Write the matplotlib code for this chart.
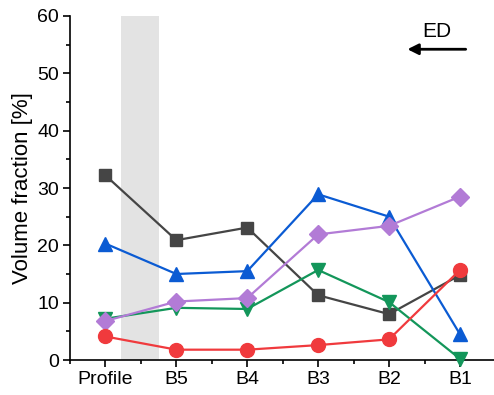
import numpy as np
import matplotlib
matplotlib.use("Agg")
import matplotlib.pyplot as plt
from matplotlib.ticker import MultipleLocator

plt.rcParams['font.family'] = ['Liberation Sans', 'DejaVu Sans']

# data ------------------------------------------------------------------------
categories = ["Profile", "B5", "B4", "B3", "B2", "B1"]
gray_sq = [32.2, 20.9, 23.1, 11.3, 8.0, 14.8]
blue_up = [20.3, 15.0, 15.5, 28.9, 25.0, 4.5]
purple_dia = [6.8, 10.2, 10.8, 21.9, 23.4, 28.5]
green_down = [7.2, 9.1, 8.9, 15.7, 10.1, 0.2]
red_circ = [4.1, 1.8, 1.8, 2.6, 3.6, 15.7]

x = np.arange(len(categories))

fig = plt.figure(figsize=(4.94, 3.95), dpi=100)
ax = fig.add_axes([0.1417, 0.0886, 0.8583, 0.8709])

# gray band between Profile and B5
ax.axvspan(0.22, 0.76, color='#e3e3e3', lw=0, zorder=0)

series = [
    (gray_sq, '#454545', 's', 9),
    (blue_up, '#0b5bd3', '^', 10),
    (green_down, '#13965a', 'v', 10),
    (purple_dia, '#b27bd6', 'D', 9.5),
    (red_circ, '#f03a3d', 'o', 10),
]
for vals, c, m, ms in series:
    ax.plot(x, vals, color=c, marker=m, markersize=ms, lw=1.6, clip_on=False, zorder=3)

# arrow for ED ----------------------------------------------------------------
ax.annotate('', xy=(4.22, 54.2), xytext=(5.12, 54.2),
            arrowprops=dict(arrowstyle='-|>', color='black', lw=2,
                            mutation_scale=16))
ax.text(4.68, 57.3, 'ED', ha='center', va='center', fontsize=15)

ax.set_xlim(-0.5, 5.48)
ax.set_ylim(0, 60)
ax.set_xticks(x)
ax.set_xticklabels(categories)
ax.xaxis.set_minor_locator(MultipleLocator(0.5))
ax.yaxis.set_major_locator(MultipleLocator(10))
ax.yaxis.set_minor_locator(MultipleLocator(5))
ax.tick_params(which='major', length=5, width=1.2, labelsize=14, pad=3)
ax.tick_params(which='minor', length=3, width=1.2)
ax.set_ylabel('Volume fraction [%]', fontsize=16, labelpad=3)

for s in ['top', 'right']:
    ax.spines[s].set_visible(False)
for s in ['left', 'bottom']:
    ax.spines[s].set_linewidth(1.2)

fig.savefig('out.png', dpi=100)
